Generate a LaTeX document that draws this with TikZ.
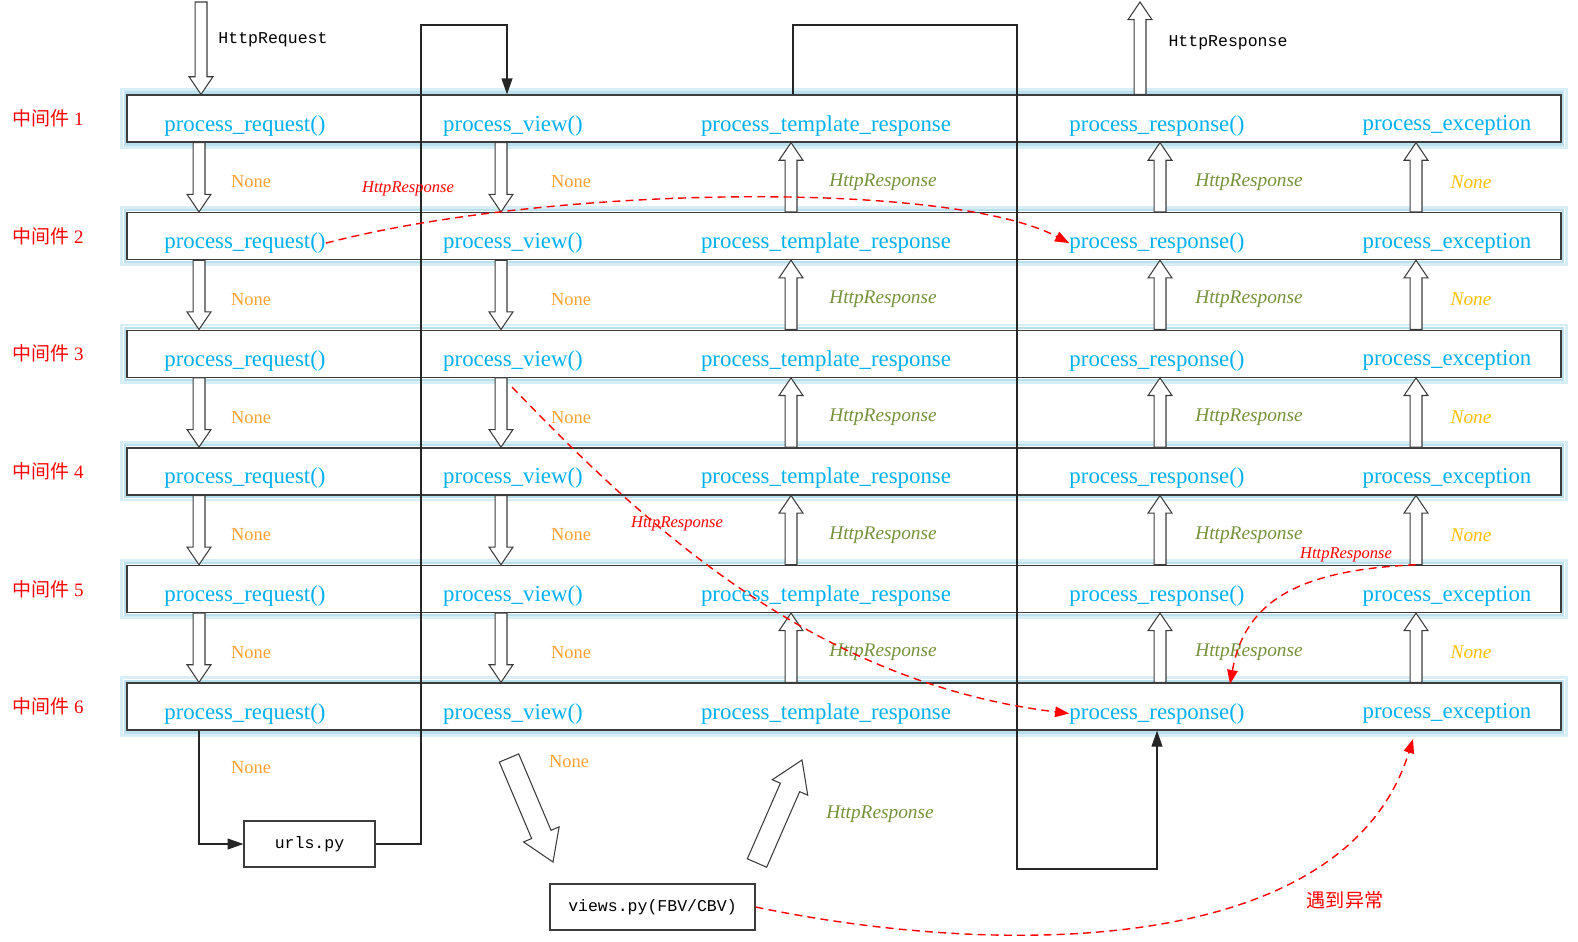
\documentclass[tikz,border=0pt]{standalone}
\usepackage{fontspec}
\setmainfont{Liberation Serif}
\setmonofont{Liberation Mono}
\newfontfamily\cjk{Noto Sans CJK SC}
\usetikzlibrary{arrows.meta, positioning, calc}
\definecolor{FuncBlue}{RGB}{0, 176, 240}
\definecolor{NoneOrange}{RGB}{255, 160, 50}
\definecolor{RespGreen}{RGB}{118, 146, 60}
\definecolor{NoneYellow}{RGB}{255, 192, 0}
\definecolor{GlowBlue}{RGB}{186, 224, 237}
\definecolor{GlowPale}{RGB}{216, 238, 246}
\definecolor{FrameGray}{RGB}{60, 60, 60}

% sizes of the hollow block arrows
\def\hsw{3.4pt}\def\hhw{6.8pt}\def\hhl{10pt}

\tikzset{
  rowbox/.style={draw=FrameGray, line width=0.8pt, minimum width=28.68cm, minimum height=0.94cm, inner sep=0pt},
  glow/.style={draw=GlowPale, line width=1.6pt},
  glowin/.style={draw=GlowBlue, line width=1.2pt},
  func/.style={text=FuncBlue, inner sep=0pt, font=\fontsize{13}{15}\selectfont},
  mwlab/.style={text=red, inner sep=0pt, font=\fontsize{10.8}{13}\selectfont},
  nonelab/.style={text=NoneOrange, inner sep=0pt, font=\fontsize{10.5}{12}\selectfont},
  resplab/.style={text=RespGreen, inner sep=0pt, font=\fontsize{11}{13}\selectfont\itshape},
  exclab/.style={text=NoneYellow, inner sep=0pt, font=\fontsize{11}{13}\selectfont\itshape},
  redlab/.style={text=red, inner sep=0pt, font=\fontsize{9.4}{11}\selectfont\itshape},
  codelab/.style={inner sep=0pt, font=\fontsize{9.4}{11}\selectfont\ttfamily},
  filebox/.style={draw=FrameGray, line width=0.7pt, minimum height=0.92cm, codelab},
  flow/.style={draw=black!85, line width=0.6pt, -{Triangle[length=9pt, width=6.2pt]}},
  hresp/.style={draw=red, line width=0.8pt, dash pattern=on 4.5pt off 3pt,
    -{Triangle[length=8pt, width=6pt]}},
  big/.code={\def\hsw{6pt}\def\hhw{11pt}\def\hhl{17pt}},
  hollow/.style={draw=FrameGray, fill=white, line width=0.6pt, line join=miter,
    to path={let \p1=($(\tikztotarget)-(\tikztostart)$), \n1={atan2(\y1,\x1)},
      \n2={veclen(\x1,\y1)-\hhl} in
      ($(\tikztostart)+(\n1+90:\hsw)$) -- ($(\tikztostart)+(\n1:\n2)+(\n1+90:\hsw)$)
      -- ($(\tikztostart)+(\n1:\n2)+(\n1+90:\hhw)$) -- (\tikztotarget)
      -- ($(\tikztostart)+(\n1:\n2)+(\n1-90:\hhw)$) -- ($(\tikztostart)+(\n1:\n2)+(\n1-90:\hsw)$)
      -- ($(\tikztostart)+(\n1-90:\hsw)$) -- cycle}}
}

\begin{document}
\begin{tikzpicture}[x=0.02cm, y=-0.02cm]
\useasboundingbox (0,0) rectangle (1578,941);
% columns of the block arrows
\coordinate (creq) at (199,0);
\coordinate (cview) at (501,0);
\coordinate (ctpl) at (791,0);
\coordinate (cresp) at (1160,0);
\coordinate (cexc) at (1416,0);

% middleware rows
\foreach \i in {1,...,6}{
  \pgfmathsetmacro\yc{118.5+117.6*(\i-1)}
  \node[rowbox] (mw\i) at (844,\yc) {};
  \draw[glow] ([shift={(-2.6pt,2.6pt)}]mw\i.north west) rectangle ([shift={(2.6pt,-2.6pt)}]mw\i.south east);
  \draw[glowin] ([shift={(-1pt,1pt)}]mw\i.north west) rectangle ([shift={(1pt,-1pt)}]mw\i.south east);
  \node[mwlab] (lab\i) at (48,\yc) {{\cjk 中间件} \i};
  \node[func] (req\i) at (245,\yc+7) {process\_request()};
  \node[func] (view\i) at (513,\yc+7) {process\_view()};
  \node[func] (tpl\i) at (826,\yc+7) {process\_template\_response};
  \node[func] (resp\i) at (1157,\yc+7) {process\_response()};
  \node[func] (exc\i) at (1447,\yc+7) {process\_exception};
}

\node[filebox, minimum width=2.62cm] (urls) at (309.5,844) {urls.py};
\node[filebox, minimum width=4.1cm] (views) at (652.5,907) {views.py(FBV/CBV)};

% routing lines
\coordinate (topL) at (421,25);
\coordinate (topM) at (507,25);
\coordinate (topA) at (793,25);
\coordinate (topB) at (1017,25);
\coordinate (botB) at (1017,869);
\draw[flow] (mw6.south -| creq) |- (urls.west);
\draw[flow] (urls.east) -| (topL) -- (topM) -- (mw1.north -| topM);
\draw[flow] (mw1.north -| topA) -- (topA) -- (topB) -- (botB) -| (mw6.south -| resp6);

% block arrows
\coordinate (reqin) at (201,2);
\coordinate (respout) at (1140,2);
\draw[hollow] (reqin) to (mw1.north -| reqin);
\draw[hollow] (mw1.north -| respout) to (respout);
\node[codelab] (hreq) at (273,40) {HttpRequest};
\node[codelab] (hres) at (1228,43) {HttpResponse};

\foreach \i [evaluate=\i as \j using int(\i+1)] in {1,...,5}{
  \pgfmathsetmacro\yl{182+117.6*(\i-1)}
  \draw[hollow] (mw\i.south -| creq) to (mw\j.north -| creq);
  \draw[hollow] (mw\i.south -| cview) to (mw\j.north -| cview);
  \draw[hollow] (mw\j.north -| ctpl) to (mw\i.south -| ctpl);
  \draw[hollow] (mw\j.north -| cresp) to (mw\i.south -| cresp);
  \draw[hollow] (mw\j.north -| cexc) to (mw\i.south -| cexc);
  \node[nonelab] (nreq\i) at (251,\yl) {None};
  \node[nonelab] (nview\i) at (571,\yl) {None};
  \node[resplab] (rtpl\i) at (883,\yl) {HttpResponse};
  \node[resplab] (rresp\i) at (1249,\yl) {HttpResponse};
  \node[exclab] (nexc\i) at (1471,\yl) {None};
}

% into and out of the view
\coordinate (vin) at (509,758);
\coordinate (vtip) at (553,862);
\coordinate (vback) at (757,863);
\coordinate (vup) at (802,760);
\draw[hollow, big] (vin) to (vtip);
\draw[hollow, big] (vback) to (vup);
\node[nonelab] (nurls) at (251,768) {None};
\node[nonelab] (nviews) at (569,762) {None};
\node[resplab] (rviews) at (880,814) {HttpResponse};

% short cuts
\coordinate (hs2) at (512,387);
\coordinate (hs3) at (1230,684);
\coordinate (exin) at (1413,739);
\draw[hresp] (req2.east) .. controls (550,185) and (950,180) .. (resp2.west);
\draw[hresp] (hs2) .. controls (640,520) and (810,682) .. (resp6.west);
\draw[hresp] (mw5.north -| cexc) .. controls (1300,570) and (1245,600) .. (hs3);
\draw[hresp] (views.east) .. controls (1000,958) and (1345,958) .. (exin);
\node[redlab] (cut1) at (408,189) {HttpResponse};
\node[redlab] (cut2) at (677,524) {HttpResponse};
\node[redlab] (cut3) at (1346,555) {HttpResponse};
\node[text=red, inner sep=0pt, font=\fontsize{10.9}{13}\selectfont\cjk] (err) at (1345,900) {遇到异常};
\end{tikzpicture}
\end{document}
